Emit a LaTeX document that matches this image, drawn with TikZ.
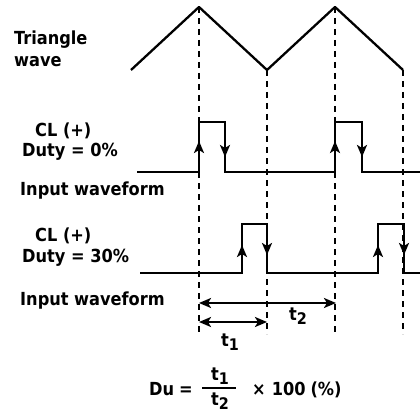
\documentclass[tikz,border=0pt]{standalone}
\usepackage{fontspec}
\newfontfamily\heavy{DejaVu Sans Condensed}
\usetikzlibrary{arrows.meta}
\newcommand{\tsub}[1]{t\raisebox{-4pt}{\fontsize{16}{16}\selectfont #1}}
\begin{document}
\begin{tikzpicture}[x=1pt,y=-1pt,
  wave/.style={line width=2.3pt, line join=miter},
  guide/.style={line width=1.8pt, dash pattern=on 6pt off 5pt},
  edgearrow/.style={line width=2.3pt, -{Stealth[length=12pt,width=10pt,inset=3pt]}},
  dimarrow/.style={line width=2.3pt, {Stealth[length=12pt,width=10pt,inset=3pt]}-{Stealth[length=12pt,width=10pt,inset=3pt]}},
  lbl/.style={inner sep=0pt, anchor=base west, font=\heavy\bfseries\fontsize{18}{21}\selectfont},
  sub/.style={inner sep=0pt, font=\heavy\bfseries\fontsize{18}{21}\selectfont}]
\useasboundingbox (0,0) rectangle (420,417);
% key coordinates
\coordinate (p0) at (131,70);
\coordinate (p1) at (199,7);
\coordinate (p2) at (267,70);
\coordinate (p3) at (335,7);
\coordinate (p4) at (403,70);
\coordinate (b1) at (199,334);
\coordinate (b2) at (267,334);
\coordinate (b3) at (335,334);
\coordinate (b4) at (403,334);
% triangle wave
\draw[wave, line join=round] (p0) -- (p1) -- (p2) -- (p3) -- (p4);
% guides
\draw[guide] (p1) -- (b1);
\draw[guide] (p2) -- (b2);
\draw[guide] (p3) -- (b3);
\draw[guide] (p4) -- (b4);
% Duty 0% waveform
\draw[wave] (137,172) -- (199,172) -- (199,122) -- (225,122) -- (225,172)
  -- (335,172) -- (335,122) -- (362,122) -- (362,172) -- (420,172);
\draw[edgearrow] (199,156) -- (199,141);
\draw[edgearrow] (225,142) -- (225,157);
\draw[edgearrow] (335,156) -- (335,141);
\draw[edgearrow] (362,142) -- (362,157);
% Duty 30% waveform
\draw[wave] (140,273) -- (242,273) -- (242,224) -- (267,224) -- (267,273)
  -- (378,273) -- (378,224) -- (404,224) -- (404,273) -- (420,273);
\draw[edgearrow] (242,260) -- (242,245);
\draw[edgearrow] (267,240) -- (267,255);
\draw[edgearrow] (378,260) -- (378,245);
\draw[edgearrow] (404,240) -- (404,255);
% dimension arrows
\coordinate (t2a) at (199,303);
\coordinate (t2b) at (336,303);
\coordinate (t1a) at (199,322);
\coordinate (t1b) at (267,322);
\draw[dimarrow] (t2a) -- (t2b);
\draw[dimarrow] (t1a) -- (t1b);
\node[sub] (t2lbl) at (298,316) {\tsub{2}};
\node[sub] (t1lbl) at (230,342) {\tsub{1}};
% labels
\node[lbl] (tri) at (14,45) {Triangle};
\node[lbl] (wav) at (14,67) {wave};
\node[lbl] (cl1) at (35,136) {CL (+)};
\node[lbl] (du1) at (22,157) {Duty = 0\%};
\node[lbl] (in1) at (20,195) {Input waveform};
\node[lbl] (cl2) at (35,241) {CL (+)};
\node[lbl] (du2) at (22,262) {Duty = 30\%};
\node[lbl] (in2) at (20,305) {Input waveform};
% formula
\node[lbl] (du) at (149,395) {Du\hspace{5pt}=};
\coordinate (fa) at (202,388);
\coordinate (fb) at (236,388);
\draw[line width=1.6pt] (fa) -- (fb);
\node[sub] (num) at (220,376) {\tsub{1}};
\node[sub] (den) at (220,401) {\tsub{2}};
\node[lbl] (mul) at (252,395) {×\hspace{6pt}100\hspace{5pt}(\%)};
\end{tikzpicture}
\end{document}
